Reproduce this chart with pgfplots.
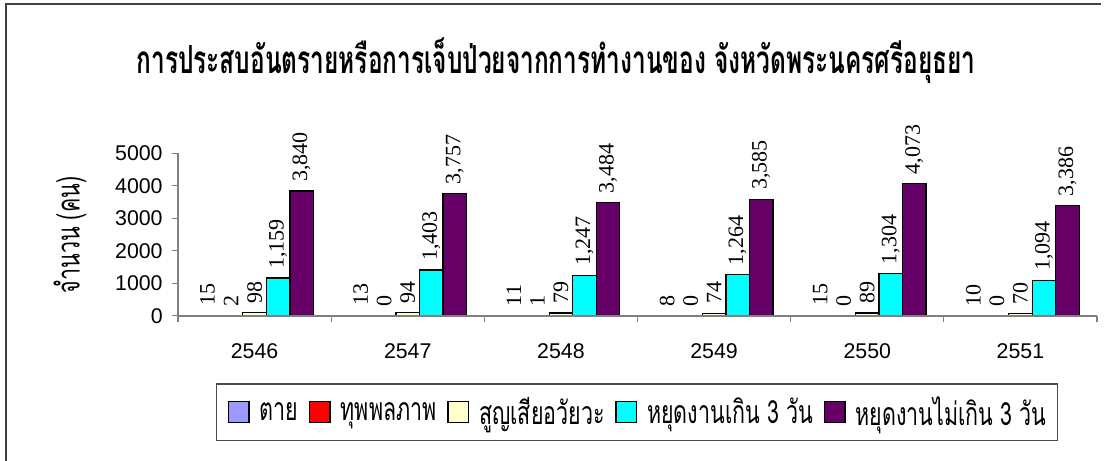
\documentclass[border=0pt]{standalone}
\usepackage{fontspec}
\setmainfont{Liberation Serif}
\newfontfamily\arialfont{Liberation Sans}
\newfontfamily\timesfont{Liberation Serif}
\newfontfamily\thaifont[Script=Thai]{Loma}
\usepackage{pgfplots}
\pgfplotsset{compat=1.18}

\definecolor{cDead}{HTML}{9999FF}
\definecolor{cDis}{HTML}{FF0000}
\definecolor{cLoss}{HTML}{FFFFCC}
\definecolor{cOver}{HTML}{00FFFF}
\definecolor{cUnder}{HTML}{660066}

% Thai text, squeezed to the narrow face of the original
\newcommand{\thai}[1]{\scalebox{0.67}[1]{\thaifont\fontsize{24}{26}\selectfont #1}}

\begin{document}
\begin{tikzpicture}
\useasboundingbox (-133.5pt,-108.2pt) rectangle (700.5pt,236.8pt);
\draw[line width=1.5pt, black!75] (-129pt,-110pt) -- (-129pt,233.8pt) -- (692pt,233.8pt);
\begin{axis}[
    at={(0,0)}, anchor=south west,
    scale only axis, width=689.25pt, height=121.9pt,
    ybar=0pt, bar width=17.625pt,
    xmin=-0.5, xmax=5.5, ymin=0, ymax=5000,
    xtick={0,...,5},
    xticklabels={2546,2547,2548,2549,2550,2551},
    minor xtick={-0.5,0.5,...,5.5},
    ytick={0,1000,...,5000},
    axis lines=left,
    x axis line style={-, draw=gray, line width=1.5pt},
    y axis line style={-, draw=gray, line width=0.8pt},
    tick align=outside,
    major x tick style={draw=none},
    minor x tick style={draw=gray, line width=0.8pt},
    minor tick length=5pt,
    major tick length=4.5pt,
    ytick style={draw=gray, line width=0.8pt},
    axis on top,
    tick label style={font=\arialfont\fontsize{16}{18}\selectfont,
        /pgf/number format/assume math mode=true},
    xticklabel style={yshift=-12.5pt},
    yticklabel style={xshift=-3.5pt, /pgf/number format/1000 sep={}},
    ylabel={\thai{จำนวน (คน)}},
    ylabel style={at={(axis description cs:-0.1175,0.4965)}, anchor=center},
    title={\scalebox{0.632}[1]{\thaifont\bfseries\fontsize{29}{32}\selectfont การประสบอันตรายหรือการเจ็บป่วยจากการทำงานของ จังหวัดพระนครศรีอยุธยา}},
    title style={at={(axis description cs:0.4113,1.518)}, anchor=center},
    nodes near coords,
    every node near coord/.append style={rotate=90, anchor=west,
        inner xsep=6.5pt,
        font=\timesfont\fontsize{16.5}{18}\selectfont,
        /pgf/number format/assume math mode=true,
        /pgf/number format/1000 sep={,}},
    every axis plot/.append style={draw=black, line width=1pt,
        legend image code/.code={\draw[##1, draw=black, line width=1pt] (0pt,-7.75pt) rectangle (15.5pt,7.75pt);}},
    legend columns=5,
    legend style={at={(0.4995,-0.5925)}, anchor=center, draw=black!70,
        line width=0.8pt, inner xsep=8pt, inner ysep=9.5pt,
        nodes={inner sep=0pt},
        /tikz/every odd column/.append style={column sep=7.5pt},
        /tikz/every even column/.append style={column sep=8pt}},
]
\addplot[fill=cDead] coordinates {(0,15) (1,13) (2,11) (3,8) (4,15) (5,10)};
\addlegendentry{\thai{ตาย}}
\addplot[fill=cDis] coordinates {(0,2) (1,0) (2,1) (3,0) (4,0) (5,0)};
\addlegendentry{\thai{ทุพพลภาพ}}
\addplot[fill=cLoss] coordinates {(0,98) (1,94) (2,79) (3,74) (4,89) (5,70)};
\addlegendentry{\thai{สูญเสียอวัยวะ}}
\addplot[fill=cOver] coordinates {(0,1159) (1,1403) (2,1247) (3,1264) (4,1304) (5,1094)};
\addlegendentry{\thai{หยุดงานเกิน 3 วัน}}
\addplot[fill=cUnder] coordinates {(0,3840) (1,3757) (2,3484) (3,3585) (4,4073) (5,3386)};
\addlegendentry{\thai{หยุดงานไม่เกิน 3 วัน}}
\end{axis}
\end{tikzpicture}
\end{document}
